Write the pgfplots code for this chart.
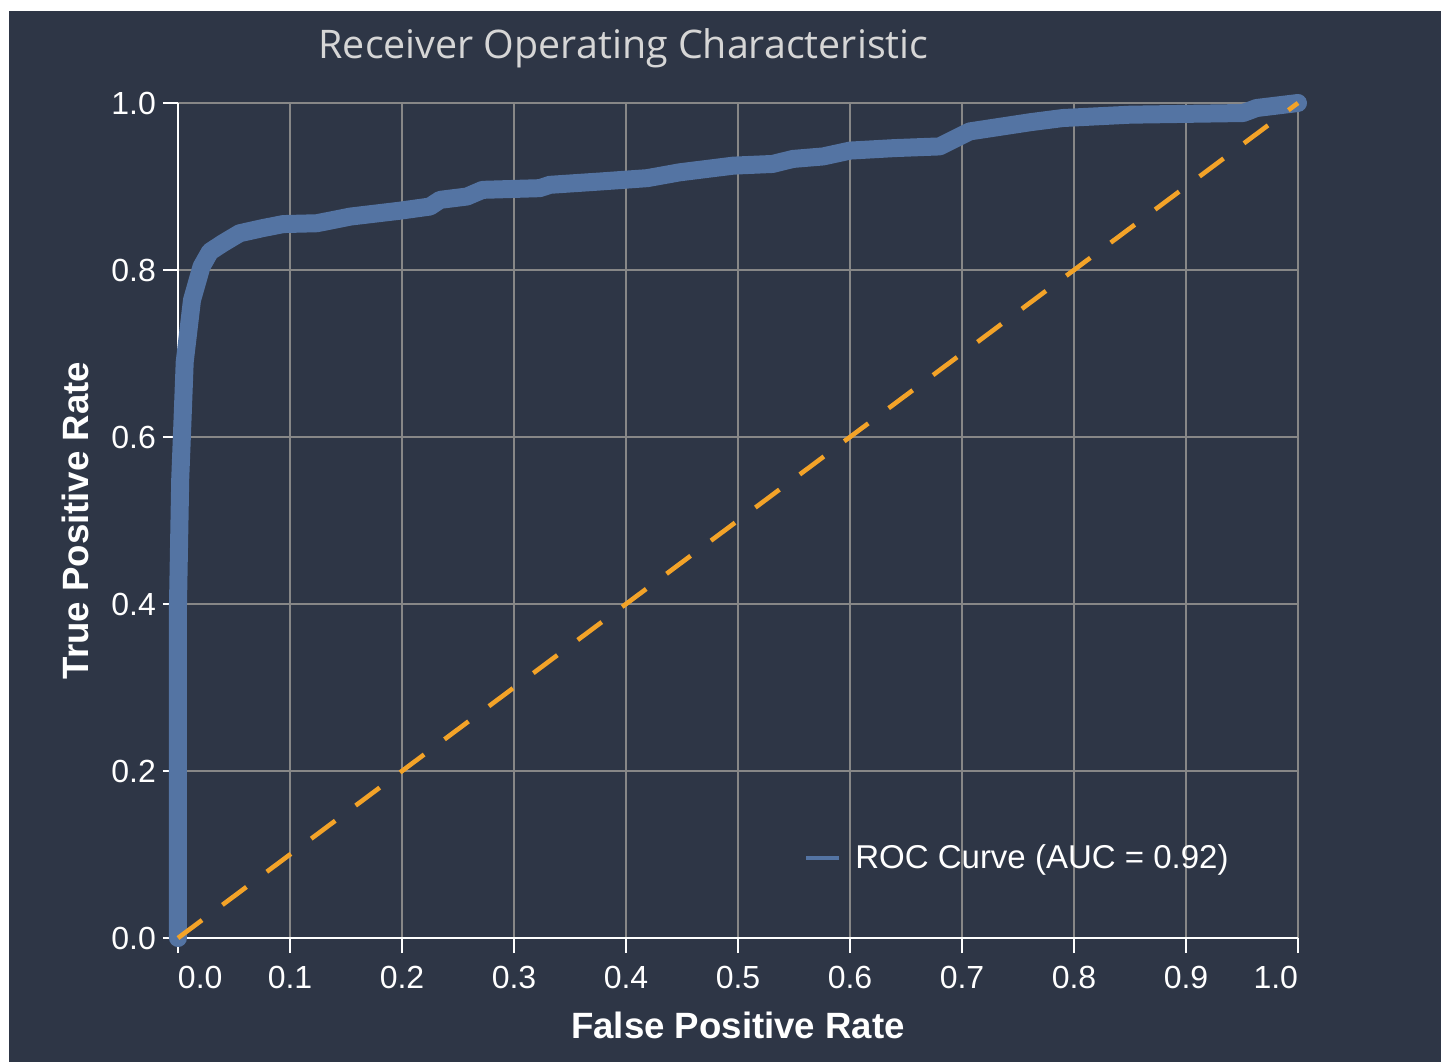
\documentclass[border=0pt]{standalone}
\usepackage{pgfplots}
\pgfplotsset{compat=1.18}
\usepackage{fontspec}
\setmainfont{Liberation Sans}
\newfontfamily\titlefont{Open Sans}

\definecolor{bg}{RGB}{46,54,70}
\definecolor{roc}{RGB}{84,116,163}
\definecolor{diag}{RGB}{243,163,40}
\definecolor{gridc}{RGB}{135,135,135}
\definecolor{titlec}{RGB}{214,214,214}

\begin{document}
\begin{tikzpicture}
% page frame: 1px = 0.5pt, axis origin at (0,0)
\path[use as bounding box, fill=white] (-89pt,-62pt) rectangle (631.5pt,469pt);
\fill[bg] (-84.5pt,-62pt) rectangle (631.5pt,463.5pt);
\begin{axis}[
  at={(0,0)}, anchor=south west,
  scale only axis, width=560pt, height=417.5pt,
  xmin=0, xmax=1, ymin=0, ymax=1,
  axis lines*=left,
  axis line style={white, line width=1.2pt},
  xtick={0,0.1,0.2,0.3,0.4,0.5,0.6,0.7,0.8,0.9,1},
  xticklabels={\makebox[0pt][l]{0.0},0.1,0.2,0.3,0.4,0.5,0.6,0.7,0.8,0.9,\makebox[0pt][r]{1.0}},
  ytick={0,0.2,0.4,0.6,0.8,1},
  yticklabels={0.0,0.2,0.4,0.6,0.8,1.0},
  grid=major, grid style={gridc, line width=1.35pt},
  tick align=outside, major tick length=7.5pt,
  tick style={white, line width=1.2pt},
  ticklabel style={font=\fontsize{16}{19}\selectfont, text=white},
  xticklabel style={yshift=-3pt},
  clip=false,
  title={Receiver Operating Characteristic},
  title style={at={(axis description cs:0.3978,1.0395)}, anchor=base,
    font=\titlefont\fontsize{19.7}{23}\selectfont, text=titlec},
  xlabel={False Positive Rate},
  xlabel style={at={(axis description cs:0.5,-0.1198)}, anchor=base,
    font=\bfseries\fontsize{18.3}{22}\selectfont, text=white},
  ylabel={True Positive Rate},
  ylabel style={at={(axis description cs:-0.0795,0.5)}, anchor=base, rotate=0,
    font=\bfseries\fontsize{18.3}{22}\selectfont, text=white},
  legend style={draw=none, fill=none, at={(axis description cs:0.5589,0.0958)},
    anchor=west, inner sep=0pt, text=white,
    font=\fontsize{16.5}{19}\selectfont},
  legend image code/.code={\draw[roc, line width=2pt, line cap=butt] (0pt,0pt) -- (16.5pt,0pt);
    \path (18pt,0pt);},
]
\addplot[roc, line width=9pt, line cap=round, line join=round] coordinates {
  (0,0) (0,0.10) (0,0.40) (0.002,0.55) (0.0036,0.605) (0.006,0.69)
  (0.0125,0.764) (0.021,0.804) (0.0286,0.822) (0.040,0.832) (0.055,0.844)
  (0.075,0.850) (0.094,0.855) (0.124,0.856) (0.154,0.864) (0.198,0.871)
  (0.225,0.876) (0.234,0.884) (0.258,0.888) (0.272,0.896) (0.323,0.898)
  (0.332,0.902) (0.377,0.906) (0.419,0.910) (0.448,0.917) (0.496,0.925)
  (0.531,0.927) (0.549,0.933) (0.576,0.936) (0.600,0.943) (0.640,0.946)
  (0.680,0.948) (0.707,0.966) (0.761,0.977) (0.790,0.982) (0.850,0.986)
  (0.951,0.988) (0.963,0.994) (1,1)
};
\addlegendentry{ROC Curve (AUC = 0.92)}
\addplot[diag, line width=2.3pt, dash pattern=on 15pt off 12.7pt, forget plot]
  coordinates {(0,0) (1,1)};
\end{axis}
\end{tikzpicture}
\end{document}
